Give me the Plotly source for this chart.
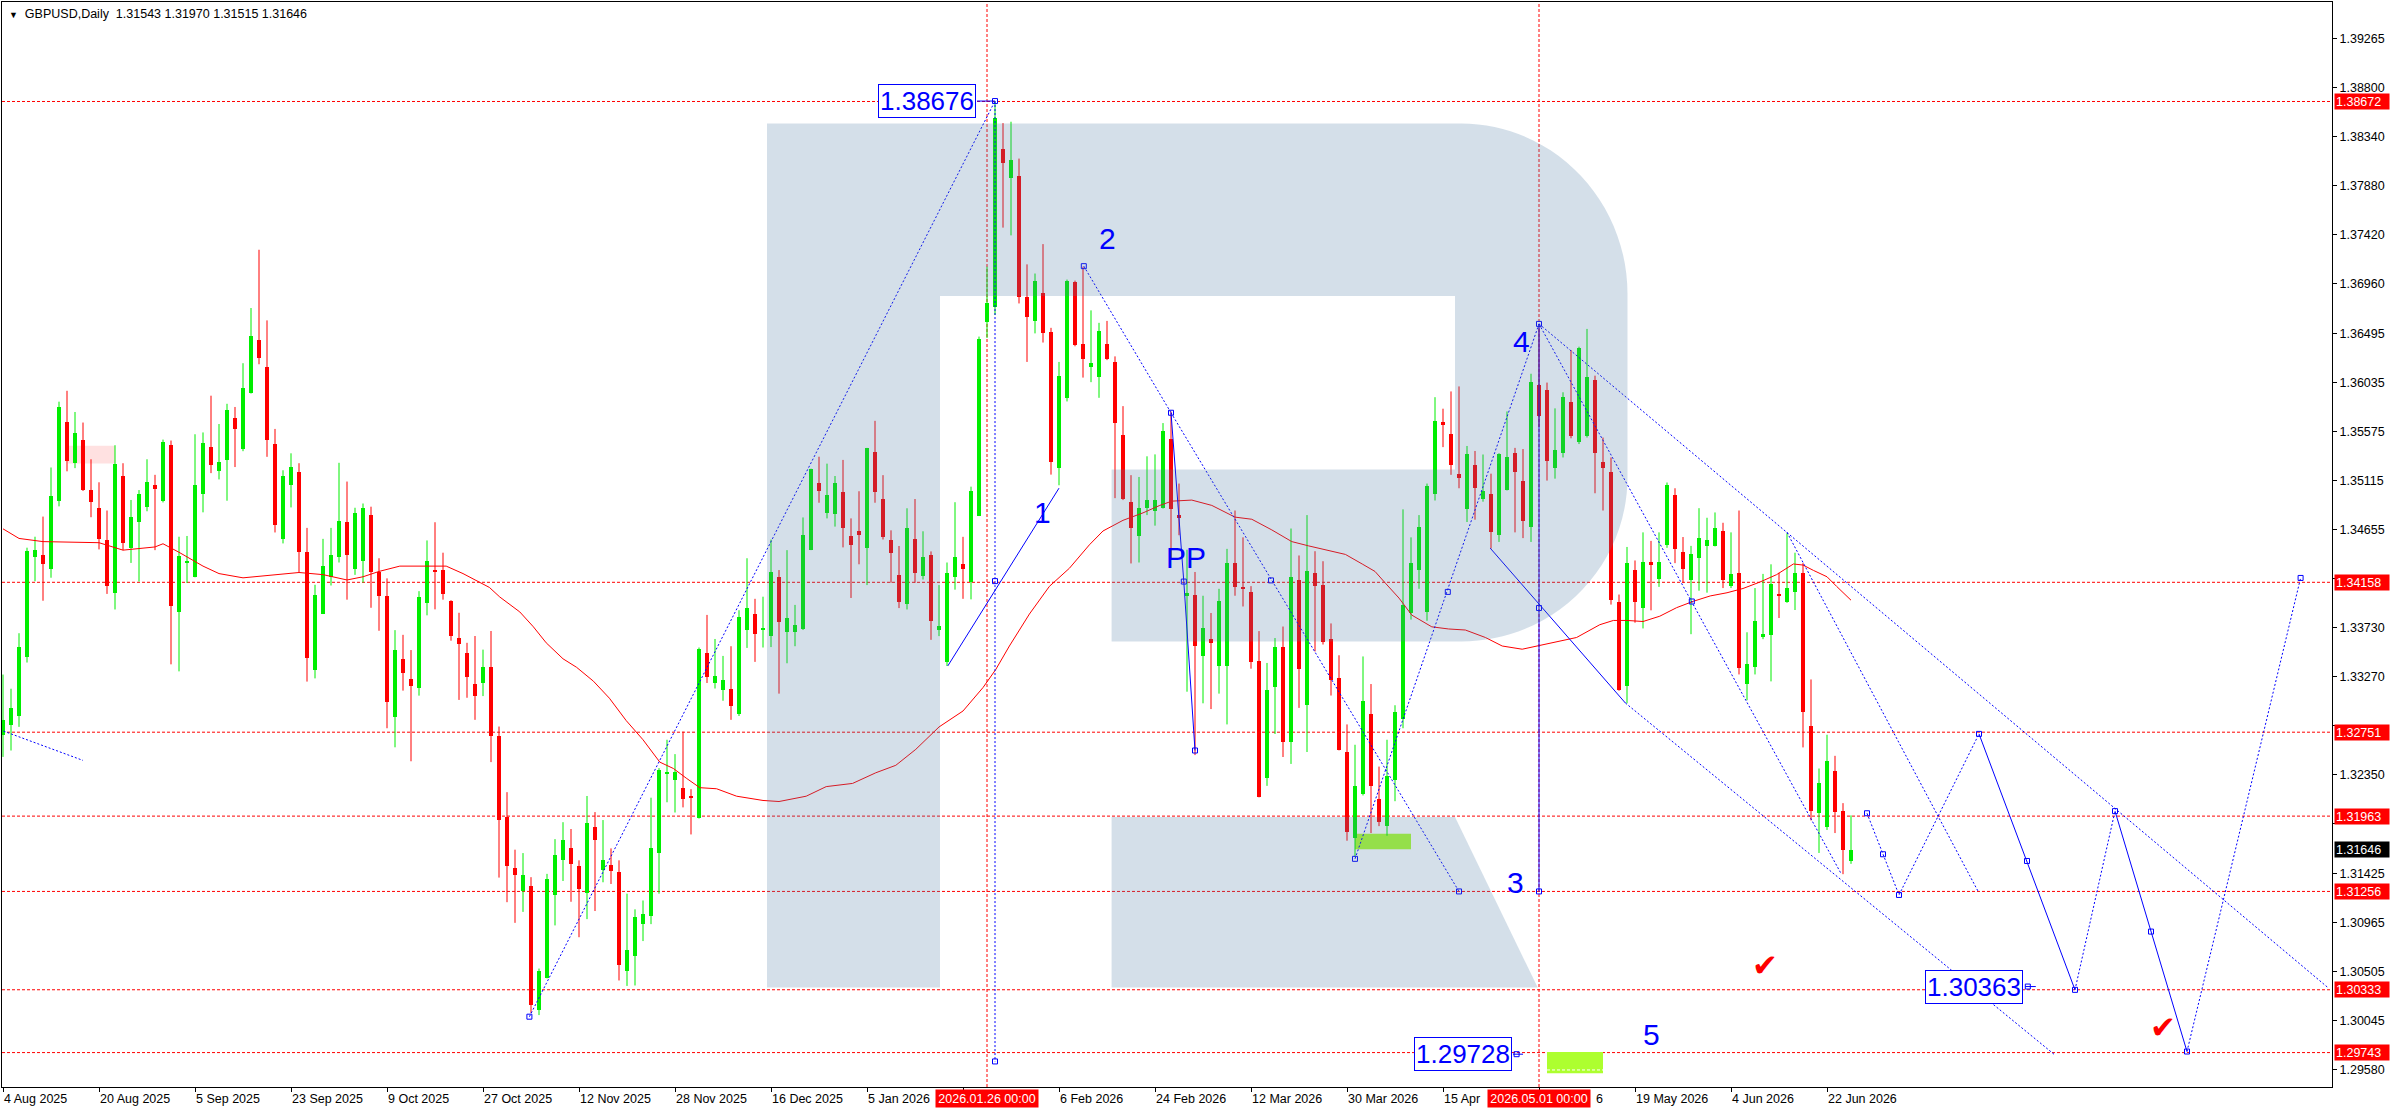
import plotly.graph_objects as go

# daily bars, index 0 = 4 Aug 2025 (weekends and holidays are skipped, as in MT4)
opens = [
    1.32728, 1.32818, 1.32900, 1.33458, 1.34400, 1.34413, 1.34284, 1.34924, 1.35664, 1.35279,
    1.35492, 1.35021, 1.34858, 1.34556, 1.34058, 1.35153, 1.34483, 1.34722, 1.34861, 1.35067,
    1.34918, 1.35445, 1.33879, 1.34340, 1.34211, 1.34984, 1.35425, 1.35203, 1.35306, 1.35698,
    1.35409, 1.35936, 1.36437, 1.36175, 1.35455, 1.34569, 1.35070, 1.35190, 1.34443, 1.33338,
    1.33863, 1.34204, 1.34400, 1.34722, 1.34284, 1.34354, 1.34792, 1.34254, 1.34031, 1.32895,
    1.33439, 1.33248, 1.33169, 1.33967, 1.34273, 1.34269, 1.33983, 1.33634, 1.33495, 1.33201,
    1.33209, 1.33360, 1.32716, 1.31958, 1.31473, 1.31262, 1.31306, 1.30142, 1.30448, 1.31223,
    1.31552, 1.31664, 1.31493, 1.31246, 1.31862, 1.31453, 1.31505, 1.31437, 1.30512, 1.30647,
    1.30953, 1.31024, 1.31620, 1.32355, 1.32299, 1.32228, 1.32152, 1.31946, 1.33499, 1.33213,
    1.33149, 1.33153, 1.32919, 1.33713, 1.33860, 1.33713, 1.33650, 1.34206, 1.33687, 1.33696,
    1.33717, 1.34465, 1.35091, 1.34810, 1.34802, 1.35005, 1.34594, 1.34637, 1.34482, 1.35381,
    1.34940, 1.34551, 1.34227, 1.33955, 1.34560, 1.34219, 1.34413, 1.33709, 1.33406, 1.34205,
    1.34327, 1.34162, 1.34784, 1.36603, 1.36741, 1.38223, 1.37955, 1.37972, 1.36841, 1.36612,
    1.36875, 1.36504, 1.35229, 1.35890, 1.36979, 1.36400, 1.36175, 1.36089, 1.36391, 1.36227,
    1.35545, 1.34910, 1.34594, 1.34853, 1.34823, 1.34853, 1.35501, 1.34789, 1.34032, 1.34039,
    1.33462, 1.33624, 1.33376, 1.33376, 1.34338, 1.34115, 1.34068, 1.33415, 1.32320, 1.33174,
    1.33552, 1.32662, 1.34183, 1.33004, 1.34241, 1.34133, 1.33624, 1.33264, 1.32568, 1.31754,
    1.32168, 1.32925, 1.32121, 1.31869, 1.32301, 1.32878, 1.33870, 1.34277, 1.33880, 1.34987,
    1.35665, 1.35546, 1.35175, 1.34850, 1.35258, 1.34944, 1.34987, 1.34601, 1.35023, 1.35373,
    1.35113, 1.34674, 1.36007, 1.35961, 1.35229, 1.35373, 1.35852, 1.35474, 1.35528, 1.36061,
    1.35283, 1.35196, 1.33971, 1.33185, 1.34273, 1.33916, 1.34345, 1.34187, 1.34511, 1.34980,
    1.34439, 1.34183, 1.34385, 1.34500, 1.34500, 1.34637, 1.34122, 1.34241, 1.33203, 1.33365,
    1.33643, 1.33661, 1.34043, 1.33971, 1.34068, 1.34241, 1.32806, 1.31988, 1.31862, 1.32388,
    1.32013, 1.31543,
]
highs = [
    1.33292, 1.33159, 1.33680, 1.34483, 1.34586, 1.34775, 1.35236, 1.35854, 1.35956, 1.35757,
    1.35658, 1.35313, 1.35097, 1.34832, 1.35445, 1.35276, 1.34931, 1.35024, 1.35313, 1.35167,
    1.35498, 1.35489, 1.34586, 1.34593, 1.35548, 1.35565, 1.35910, 1.35644, 1.35834, 1.35804,
    1.36215, 1.36733, 1.37280, 1.36617, 1.35598, 1.35210, 1.35369, 1.35276, 1.34669, 1.34135,
    1.34566, 1.34669, 1.35280, 1.35104, 1.34858, 1.34898, 1.34868, 1.34384, 1.34195, 1.33709,
    1.33665, 1.33522, 1.34075, 1.34551, 1.34722, 1.34436, 1.33990, 1.33872, 1.33590, 1.33654,
    1.33526, 1.33701, 1.32804, 1.32188, 1.31648, 1.31616, 1.31390, 1.30532, 1.31421, 1.31747,
    1.31906, 1.31842, 1.31548, 1.32152, 1.32001, 1.31926, 1.31660, 1.31548, 1.31235, 1.31088,
    1.31171, 1.32136, 1.32414, 1.32680, 1.32545, 1.32756, 1.32216, 1.33546, 1.33852, 1.33626,
    1.33467, 1.33558, 1.33896, 1.34384, 1.34003, 1.34023, 1.34559, 1.34273, 1.34460, 1.33946,
    1.34767, 1.35225, 1.35337, 1.35272, 1.35156, 1.35307, 1.34758, 1.35013, 1.35420, 1.35674,
    1.35164, 1.34646, 1.34499, 1.34853, 1.34940, 1.34637, 1.34448, 1.34132, 1.34344, 1.34910,
    1.34585, 1.35056, 1.36465, 1.37121, 1.38676, 1.38469, 1.38482, 1.38136, 1.37143, 1.37057,
    1.37333, 1.36547, 1.36227, 1.37000, 1.36990, 1.37121, 1.36711, 1.36594, 1.36612, 1.36279,
    1.35812, 1.35164, 1.35147, 1.35341, 1.35359, 1.35653, 1.35761, 1.35085, 1.34464, 1.34255,
    1.34032, 1.33870, 1.34097, 1.34472, 1.34832, 1.34580, 1.34122, 1.33700, 1.33401, 1.33635,
    1.33743, 1.34663, 1.34410, 1.34789, 1.34450, 1.34356, 1.33772, 1.33473, 1.32824, 1.32633,
    1.33462, 1.33203, 1.32428, 1.32680, 1.33004, 1.34843, 1.34580, 1.34789, 1.35085, 1.35896,
    1.35788, 1.35950, 1.35997, 1.35438, 1.35391, 1.35358, 1.35178, 1.35370, 1.35762, 1.35420,
    1.35409, 1.36116, 1.36550, 1.36033, 1.35791, 1.35942, 1.36339, 1.36370, 1.36537, 1.36098,
    1.35517, 1.35330, 1.34043, 1.34490, 1.34363, 1.34627, 1.34547, 1.34627, 1.35095, 1.35041,
    1.34583, 1.34500, 1.34854, 1.34764, 1.34814, 1.34717, 1.34627, 1.34832, 1.33689, 1.34104,
    1.34237, 1.34327, 1.34248, 1.34619, 1.34436, 1.34338, 1.33246, 1.32410, 1.32727, 1.32529,
    1.32085, 1.31970,
]
lows = [
    1.32519, 1.32579, 1.32801, 1.33405, 1.34168, 1.33985, 1.34201, 1.34871, 1.35200, 1.35230,
    1.35015, 1.34769, 1.34467, 1.34049, 1.33903, 1.34460, 1.34340, 1.34165, 1.34825, 1.34460,
    1.34908, 1.33388, 1.33322, 1.34151, 1.34205, 1.34815, 1.35183, 1.35124, 1.34924, 1.35240,
    1.35389, 1.35930, 1.36205, 1.35336, 1.34626, 1.34523, 1.34861, 1.34251, 1.33226, 1.33256,
    1.33860, 1.34128, 1.34344, 1.33995, 1.34228, 1.34155, 1.33919, 1.33703, 1.32788, 1.32609,
    1.33141, 1.32478, 1.33094, 1.33848, 1.33904, 1.33995, 1.33610, 1.33054, 1.33074, 1.32867,
    1.33090, 1.32470, 1.31386, 1.31155, 1.30961, 1.31064, 1.30115, 1.30095, 1.30440, 1.30937,
    1.31354, 1.31159, 1.30826, 1.30996, 1.31072, 1.31342, 1.31326, 1.30420, 1.30369, 1.30373,
    1.30790, 1.30949, 1.31235, 1.32093, 1.31997, 1.32045, 1.31791, 1.31940, 1.33213, 1.33161,
    1.33046, 1.32867, 1.32903, 1.33542, 1.33411, 1.33546, 1.33550, 1.33113, 1.33398, 1.33558,
    1.33710, 1.34460, 1.34905, 1.34758, 1.34681, 1.34486, 1.34011, 1.34327, 1.34132, 1.34905,
    1.34560, 1.34154, 1.33916, 1.33903, 1.34154, 1.34184, 1.33618, 1.33653, 1.33372, 1.34089,
    1.34003, 1.33998, 1.34780, 1.36452, 1.36668, 1.37488, 1.37415, 1.36776, 1.36227, 1.36495,
    1.36409, 1.35169, 1.35069, 1.35856, 1.36374, 1.36080, 1.36037, 1.35890, 1.36244, 1.34948,
    1.34930, 1.34335, 1.34344, 1.34789, 1.34690, 1.34850, 1.34378, 1.34600, 1.33131, 1.32536,
    1.33022, 1.32968, 1.33113, 1.32824, 1.34032, 1.33931, 1.33347, 1.32139, 1.32247, 1.32734,
    1.32518, 1.32453, 1.32979, 1.32565, 1.33509, 1.33574, 1.33095, 1.32580, 1.31732, 1.31580,
    1.32157, 1.31804, 1.31869, 1.31779, 1.32103, 1.32788, 1.33808, 1.34097, 1.33797, 1.34926,
    1.35427, 1.35167, 1.35041, 1.34724, 1.34746, 1.34915, 1.34475, 1.34537, 1.35020, 1.34627,
    1.34573, 1.34537, 1.35618, 1.35113, 1.35131, 1.35330, 1.35510, 1.35456, 1.35517, 1.34994,
    1.34832, 1.33949, 1.33140, 1.33022, 1.33779, 1.33725, 1.33895, 1.34115, 1.34482, 1.34338,
    1.34151, 1.33671, 1.34079, 1.34061, 1.34495, 1.34104, 1.34104, 1.33293, 1.33051, 1.33293,
    1.33624, 1.33228, 1.33823, 1.33965, 1.33898, 1.32608, 1.31923, 1.31617, 1.31833, 1.31804,
    1.31418, 1.31515,
]
closes = [
    1.32867, 1.32974, 1.33554, 1.34453, 1.34463, 1.34334, 1.34964, 1.35804, 1.35296, 1.35558,
    1.35024, 1.34911, 1.34569, 1.34125, 1.35266, 1.34523, 1.34775, 1.34991, 1.35104, 1.35031,
    1.35475, 1.33936, 1.34404, 1.34360, 1.35067, 1.35465, 1.35260, 1.35286, 1.35774, 1.35601,
    1.35983, 1.36467, 1.36262, 1.35495, 1.34692, 1.35153, 1.35236, 1.34447, 1.33445, 1.34035,
    1.34311, 1.34413, 1.34735, 1.34410, 1.34805, 1.34858, 1.34251, 1.34029, 1.33030, 1.33522,
    1.33308, 1.33185, 1.34023, 1.34361, 1.34261, 1.34047, 1.33658, 1.33582, 1.33268, 1.33093,
    1.33360, 1.32716, 1.31930, 1.31493, 1.31413, 1.31409, 1.30190, 1.30512, 1.31370, 1.31596,
    1.31739, 1.31509, 1.31278, 1.31898, 1.31735, 1.31548, 1.31449, 1.30563, 1.30710, 1.31020,
    1.31048, 1.31664, 1.32398, 1.32375, 1.32379, 1.32128, 1.32140, 1.33530, 1.33268, 1.33280,
    1.33244, 1.32994, 1.33832, 1.33920, 1.33669, 1.33725, 1.34257, 1.33789, 1.33825, 1.33761,
    1.34599, 1.35221, 1.35013, 1.34974, 1.35091, 1.34672, 1.34508, 1.34603, 1.35415, 1.35009,
    1.34581, 1.34430, 1.33977, 1.34672, 1.34249, 1.34400, 1.33795, 1.33748, 1.34249, 1.34400,
    1.34283, 1.35017, 1.36439, 1.36784, 1.38516, 1.38093, 1.38119, 1.36832, 1.36646, 1.36983,
    1.36495, 1.35290, 1.36093, 1.36987, 1.36387, 1.36257, 1.36218, 1.36517, 1.36257, 1.35657,
    1.34940, 1.34672, 1.34853, 1.34931, 1.34927, 1.35579, 1.34845, 1.34760, 1.34057, 1.33563,
    1.33725, 1.33588, 1.33978, 1.34338, 1.34111, 1.34093, 1.33412, 1.32146, 1.33149, 1.33552,
    1.32662, 1.34212, 1.33340, 1.34266, 1.34122, 1.33599, 1.33239, 1.32583, 1.31818, 1.32247,
    1.33040, 1.32244, 1.31912, 1.32337, 1.32943, 1.33949, 1.34338, 1.34674, 1.35066, 1.35672,
    1.35636, 1.35258, 1.35142, 1.35366, 1.35041, 1.35016, 1.34627, 1.35366, 1.35337, 1.35193,
    1.34735, 1.36043, 1.35719, 1.35301, 1.35402, 1.35899, 1.35528, 1.36357, 1.36087, 1.35373,
    1.35229, 1.33996, 1.33149, 1.34338, 1.33971, 1.34349, 1.34320, 1.34349, 1.35070, 1.34475,
    1.34284, 1.34428, 1.34573, 1.34555, 1.34670, 1.34183, 1.34237, 1.33354, 1.33390, 1.33794,
    1.33671, 1.34140, 1.34032, 1.34104, 1.34241, 1.32940, 1.32013, 1.32276, 1.32482, 1.32006,
    1.31645, 1.31646,
]

# moving average at a few dozen points (bar index, price)
ma_x = [0, 2, 5, 12, 15, 19, 20, 22, 25, 27, 30, 33, 37, 40, 43, 45, 47, 49.6, 52.5, 55.4,
        57.5, 59.6, 60.8, 62.1, 64.6, 66.3, 67.9, 70, 71.7, 73.8, 75.8, 77.9, 80, 82.1, 83.8,
        85.4, 87.1, 89.2, 91.7, 95, 97, 100.4, 102.9, 106.2, 109.1, 111.6, 114.1, 117, 120,
        122.5, 124.1, 125.8, 128.3, 130.8, 133.3, 135.8, 137.5, 140, 142.5, 144.6, 146.1,
        148.6, 151.1, 154, 156.1, 158.6, 161.1, 163.2, 165.7, 167.8, 169.9, 171.5, 172.8,
        174.5, 176.1, 178.6, 180.7, 182.8, 185.3, 187.4, 189.9, 192.4, 194.6, 196.7, 199.6,
        201.3, 203, 205, 207.1, 209.2, 211.3, 213.4, 215.5, 217.5, 219.6, 221.7, 223.8, 225,
        226.3, 228, 229.2, 231]
ma_y = [1.3466, 1.3457, 1.3454, 1.3453, 1.3446, 1.3449, 1.3452, 1.3444, 1.3431, 1.3424,
        1.3420, 1.3422, 1.3425, 1.3423, 1.3418, 1.3421, 1.3426, 1.3431, 1.3431, 1.3431,
        1.3424, 1.3416, 1.3411, 1.3402, 1.3388, 1.3374, 1.3359, 1.3344, 1.3336, 1.3323,
        1.3307, 1.3286, 1.3268, 1.3247, 1.3241, 1.3232, 1.3223, 1.3222, 1.3215, 1.3211,
        1.3210, 1.3215, 1.3224, 1.3227, 1.3237, 1.3244, 1.3259, 1.3280, 1.3295, 1.3317,
        1.3334, 1.3356, 1.3386, 1.3412, 1.3429, 1.3451, 1.3464, 1.3474, 1.3481, 1.3488,
        1.3492, 1.3493, 1.3488, 1.3477, 1.3475, 1.3465, 1.3454, 1.3450, 1.3446, 1.3442,
        1.3433, 1.3426, 1.3415, 1.3401, 1.3385, 1.3374, 1.3372, 1.3371, 1.3364, 1.3356,
        1.3353, 1.3357, 1.3360, 1.3364, 1.3376, 1.3380, 1.3380, 1.3379, 1.3384, 1.3392,
        1.3398, 1.3403, 1.3406, 1.3410, 1.3416, 1.3423, 1.3433, 1.3432, 1.3427, 1.3421,
        1.3412, 1.3399]

levels = [1.38672, 1.34158, 1.32751, 1.31963, 1.31256, 1.30333, 1.29743]
last_price = 1.31646

price_ticks = [1.39265, 1.38800, 1.38340, 1.37880, 1.37420, 1.36960, 1.36495, 1.36035,
               1.35575, 1.35115, 1.34655, 1.34195, 1.33730, 1.33270, 1.32810, 1.32350,
               1.31890, 1.31425, 1.30965, 1.30505, 1.30045, 1.29580]

# date labels; 21 Jan and most of 1 May sit under the red time markers,
# and the red 1 May marker also clips the end of "15 Apr 2026"
date_ticks = [0, 12, 24, 36, 48, 60, 72, 84, 96, 108, 132, 144, 156, 168, 180,
              204, 216, 228]
date_labels = ["4 Aug 2025", "20 Aug 2025", "5 Sep 2025", "23 Sep 2025", "9 Oct 2025",
               "27 Oct 2025", "12 Nov 2025", "28 Nov 2025", "16 Dec 2025", "5 Jan 2026",
               "6 Feb 2026", "24 Feb 2026", "12 Mar 2026", "30 Mar 2026",
               "15 Apr", "19 May 2026", "4 Jun 2026", "22 Jun 2026"]
hidden_ticks = [120, 192]

vline_bars = [123, 192]
vline_labels = ["2026.01.26 00:00", "2026.05.01 00:00"]

# analyst drawings (bar index, price)
dotted_paths = [
    [(-0.4, 1.32774), (10.0, 1.32486)],
    [(65.8, 1.30080), (124.0, 1.38676)],
    [(124.0, 1.38676), (124.0, 1.29660)],
    [(135.1, 1.37126), (146.0, 1.35750)],
    [(146.0, 1.35750), (182.0, 1.31256)],
    [(169.0, 1.31562), (192.0, 1.36584)],
    [(192.0, 1.36584), (290.7, 1.30348)],
    [(192.0, 1.36584), (229.8, 1.31418)],
    [(202.8, 1.33025), (256.5, 1.29720)],
    [(223.0, 1.34627), (246.9, 1.31255)],
    [(233.0, 1.31990), (237.0, 1.31223), (247.0, 1.32735)],
    [(259.0, 1.30332), (264.0, 1.32010)],
    [(273.0, 1.29753), (287.2, 1.34199)],
]
solid_paths = [
    [(118.1, 1.33373), (132.0, 1.35042)],
    [(146.0, 1.35750), (147.6, 1.34165), (149.0, 1.32579)],
    [(192.0, 1.36584), (192.0, 1.31256)],
    [(185.9, 1.34479), (202.8, 1.33025)],
    [(247.0, 1.32735), (253.0, 1.31542), (259.0, 1.30332)],
    [(264.0, 1.32010), (268.5, 1.30879), (273.0, 1.29753)],
    [(121.75, 1.38676), (124.0, 1.38676)],
    [(252.8, 1.30363), (254.1, 1.30363)],
    [(188.75, 1.29728), (190.0, 1.29728)],
]
anchors = [(65.8, 1.30080), (124.0, 1.38676), (124.0, 1.34169), (124.0, 1.29660),
           (135.1, 1.37126), (146.0, 1.35750), (147.6, 1.34165), (149.0, 1.32579),
           (158.5, 1.34176), (182.0, 1.31256), (169.0, 1.31562), (180.6, 1.34068),
           (192.0, 1.36584), (192.0, 1.33917), (192.0, 1.31256), (211.1, 1.33978),
           (233.0, 1.31990), (235.0, 1.31605), (237.0, 1.31223), (247.0, 1.32735),
           (253.0, 1.31542), (259.0, 1.30332), (264.0, 1.32010), (268.5, 1.30879),
           (273.0, 1.29753), (287.2, 1.34199), (253.1, 1.30363), (189.2, 1.29728)]

wave_text = ["1", "2", "PP", "3", "4", "5"]
wave_x = [129.9, 138.0, 147.9, 189.0, 189.8, 206.0]
wave_y = [1.34818, 1.37383, 1.34387, 1.31336, 1.36420, 1.29916]

tag_text = ["1.38676", "1.30363", "1.29728"]
tag_x = [115.5, 246.4, 182.5]
tag_y = [1.38676, 1.30363, 1.29728]

check_x = [220.2, 270.0]
check_y = [1.30565, 1.29983]

zone_x0 = [169.0, 193.0]
zone_x1 = [176.0, 200.0]
zone_lo = [1.31653, 1.29548]
zone_hi = [1.31797, 1.29749]
pink_zone = (8.1, 14.0, 1.35273, 1.35439)

BULL = "#00ee00"
BEAR = "#ff0000"
BLUE = "#0000ff"
FONT = "Liberation Sans, Arial, sans-serif"

W, H = 2396, 1110
ML, MR, MT, MB = 2, 64, 2, 23
PW, PH = W - ML - MR, H - MT - MB

n = len(closes)
up = [i for i in range(n) if closes[i] >= opens[i]]
dn = [i for i in range(n) if closes[i] < opens[i]]

fig = go.Figure()


def wicks(idx, color):
    xs, ys = [], []
    for i in idx:
        xs += [i, i, None]
        ys += [lows[i], highs[i], None]
    fig.add_trace(go.Scatter(x=xs, y=ys, mode="lines", line=dict(color=color, width=1),
                             hoverinfo="skip", showlegend=False))


def bodies(idx, color):
    fig.add_trace(go.Bar(
        x=idx,
        base=[min(opens[i], closes[i]) for i in idx],
        y=[max(abs(closes[i] - opens[i]), 0.00009) for i in idx],
        width=0.6, marker=dict(color=color, line=dict(width=0)),
        hoverinfo="skip", showlegend=False))


wicks(up, BULL)
wicks(dn, BEAR)
bodies(up, BULL)
bodies(dn, BEAR)

fig.add_trace(go.Scatter(x=ma_x, y=ma_y, mode="lines", line=dict(color="#ff0000", width=1),
                         hoverinfo="skip", showlegend=False))

for path in dotted_paths:
    fig.add_trace(go.Scatter(x=[p[0] for p in path], y=[p[1] for p in path], mode="lines",
                             line=dict(color=BLUE, width=1, dash="2px,2px"),
                             hoverinfo="skip", showlegend=False))
for path in solid_paths:
    fig.add_trace(go.Scatter(x=[p[0] for p in path], y=[p[1] for p in path], mode="lines",
                             line=dict(color=BLUE, width=1),
                             hoverinfo="skip", showlegend=False))
fig.add_trace(go.Scatter(x=[a[0] for a in anchors], y=[a[1] for a in anchors], mode="markers",
                         marker=dict(symbol="square-open", size=5, color=BLUE,
                                     line=dict(width=1, color=BLUE)),
                         hoverinfo="skip", showlegend=False))

shapes = []
# pale zones under the candles
shapes.append(dict(type="rect", xref="x", yref="y", x0=pink_zone[0], x1=pink_zone[1],
                   y0=pink_zone[2], y1=pink_zone[3], fillcolor="#ffe1e1",
                   line=dict(width=0), layer="below"))
for x0, x1, lo, hi in zip(zone_x0, zone_x1, zone_lo, zone_hi):
    shapes.append(dict(type="rect", xref="x", yref="y", x0=x0, x1=x1, y0=lo, y1=hi,
                       fillcolor="#adff2f", line=dict(width=0), layer="below"))
shapes.append(dict(type="line", xref="x", yref="y", x0=zone_x0[1], x1=zone_x1[1],
                   y0=1.2958, y1=1.2958, line=dict(color="white", width=1, dash="3px,2px"),
                   layer="below"))
for lv in levels:
    shapes.append(dict(type="line", xref="paper", yref="y", x0=0, x1=1, y0=lv, y1=lv,
                       line=dict(color="#ff0000", width=1, dash="3px,2px"), layer="below"))
for b in vline_bars:
    shapes.append(dict(type="line", xref="x", yref="paper", x0=b, x1=b, y0=0, y1=1,
                       line=dict(color="#ff0000", width=1, dash="3px,2px"), layer="below"))


# big "R" watermark, outlined in screen pixels
def pt(px, py):
    return f"{(px - ML) / PW:.5f},{1 - (py - MT) / PH:.5f}"


r_outer = ("M" + pt(767, 123.5) + " L" + pt(1461, 123.5)
           + " C" + pt(1553, 123.5) + " " + pt(1627.5, 200) + " " + pt(1627.5, 294)
           + " L" + pt(1627.5, 477)
           + " C" + pt(1627.5, 568) + " " + pt(1553, 641.5) + " " + pt(1461, 641.5)
           + " L" + pt(1111.6, 641.5) + " L" + pt(1111.6, 469.6) + " L" + pt(1455, 469.6)
           + " L" + pt(1455, 296) + " L" + pt(940, 296) + " L" + pt(940, 987.6)
           + " L" + pt(767, 987.6) + " Z")
r_leg = ("M" + pt(1111.6, 817) + " L" + pt(1455, 817) + " L" + pt(1537.7, 987.6)
         + " L" + pt(1111.6, 987.6) + " Z")
for p in (r_outer, r_leg):
    shapes.append(dict(type="path", xref="paper", yref="paper", path=p,
                       fillcolor="rgba(74,123,165,0.24)", line=dict(width=0), layer="above"))

ann = []
ann.append(dict(xref="paper", yref="paper", x=0, y=1, xanchor="left", yanchor="top",
                xshift=5, yshift=-3, showarrow=False, align="left",
                text="<span style='font-size:9px'>▼</span>  GBPUSD,Daily  "
                     "1.31543 1.31970 1.31515 1.31646",
                font=dict(family=FONT, size=12.5, color="black")))

for t, x, y in zip(wave_text, wave_x, wave_y):
    ann.append(dict(x=x, y=y, text=t, showarrow=False,
                    font=dict(family=FONT, size=30, color=BLUE)))
for t, x, y in zip(tag_text, tag_x, tag_y):
    ann.append(dict(x=x, y=y, text=t, showarrow=False, bgcolor="white", bordercolor=BLUE,
                    borderwidth=1, borderpad=1, font=dict(family=FONT, size=26, color=BLUE)))
for x, y in zip(check_x, check_y):
    ann.append(dict(x=x, y=y, text="✔", showarrow=False,
                    font=dict(family="DejaVu Sans", size=31, color="#ff0000")))

for b, t in zip(date_ticks, date_labels):
    ann.append(dict(x=b, xref="x", y=0, yref="paper", xanchor="left", yanchor="top",
                    xshift=-1, yshift=-3, text=t, showarrow=False,
                    font=dict(family=FONT, size=12.5, color="black")))
# tail of the "1 May 2026" label that peeks out past the red marker
ann.append(dict(x=192, xref="x", y=0, yref="paper", xanchor="left", yanchor="top",
                xshift=55, yshift=-3, text="6", showarrow=False,
                font=dict(family=FONT, size=12.5, color="black")))
for b, t in zip(vline_bars, vline_labels):
    ann.append(dict(x=b, xref="x", y=0, yref="paper", xanchor="center", yanchor="top",
                    yshift=-2, text=t, showarrow=False, bgcolor="#ff0000", width=100,
                    height=15, borderpad=1, font=dict(family=FONT, size=12.5, color="white")))

for lv in levels:
    ann.append(dict(x=1, xref="paper", y=lv, yref="y", xanchor="left", xshift=2,
                    text=f"{lv:.5f}", showarrow=False, bgcolor="#ff0000", width=52, height=13,
                    borderpad=1, align="left",
                    font=dict(family=FONT, size=12.5, color="white")))
ann.append(dict(x=1, xref="paper", y=last_price, yref="y", xanchor="left", xshift=2,
                text=f"{last_price:.5f}", showarrow=False, bgcolor="black", width=52, height=13,
                borderpad=1, align="left", font=dict(family=FONT, size=12.5, color="white")))

# price labels that the coloured level boxes cover are left blank
boxed = levels + [last_price]
tick_text = ["" if min(abs(v - b) for b in boxed) < 0.001 else f"{v:.5f}"
             for v in price_ticks]

fig.update_layout(
    width=W, height=H,
    margin=dict(l=ML, r=MR, t=MT, b=MB, pad=0),
    paper_bgcolor="white", plot_bgcolor="white",
    barmode="overlay", bargap=0,
    showlegend=False,
    shapes=shapes, annotations=ann,
    xaxis=dict(range=[-0.125, 291.125], showgrid=False, zeroline=False,
               tickvals=date_ticks + hidden_ticks, ticks="outside", ticklen=4,
               tickcolor="black", showticklabels=False, showline=True, linecolor="black",
               linewidth=1, mirror=True, fixedrange=True),
    yaxis=dict(range=[1.29420, 1.39606], side="right", showgrid=False, zeroline=False,
               tickvals=price_ticks, ticktext=tick_text,
               ticks="outside", ticklen=4, tickcolor="black",
               tickfont=dict(family=FONT, size=12.5, color="black"),
               showline=True, linecolor="black", linewidth=1, mirror=True,
               fixedrange=True),
)

fig.write_html("out.html", config={"displayModeBar": False},
               post_script="document.body.style.margin='0';"
                           "document.body.style.overflow='hidden';")
